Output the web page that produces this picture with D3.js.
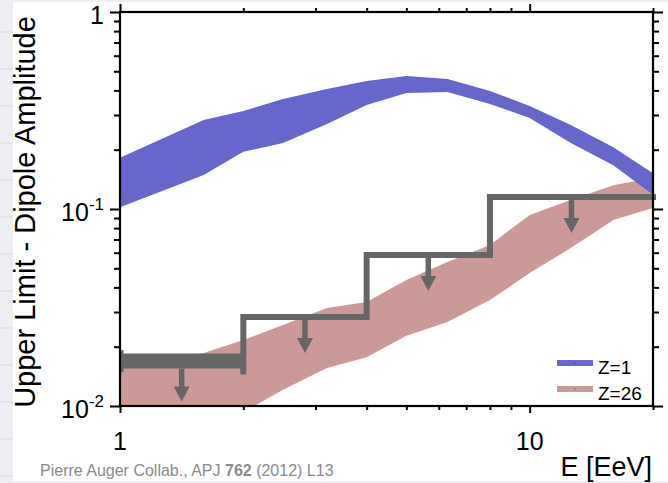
<!DOCTYPE html>
<html>
<head>
<meta charset="utf-8">
<script src="https://cdn.jsdelivr.net/npm/d3@7"></script>
<style>
  html, body { margin: 0; padding: 0; background: #eceef2; }
  svg { display: block; font-family: "Liberation Sans", Arial, Helvetica, sans-serif; }
</style>
</head>
<body>
<svg id="chart" width="668" height="483"></svg>
<script>
// Energies (EeV) at which the expected dipole-amplitude bands are sampled
const energy = [1, 1.6, 2, 2.5, 3.2, 4, 5, 6.3, 8, 10, 12.6, 16, 20];

// Z=1 band (upper / lower edge)
const protonHigh = [0.182, 0.283, 0.314, 0.362, 0.407, 0.447, 0.473, 0.457, 0.397, 0.333, 0.267, 0.206, 0.152];
const protonLow  = [0.102, 0.149, 0.195, 0.216, 0.270, 0.337, 0.388, 0.393, 0.341, 0.290, 0.216, 0.167, 0.118];

// Z=26 band (upper / lower edge)
const ironHigh = [0.0161, 0.0186, 0.0216, 0.0258, 0.0314, 0.0337, 0.0436, 0.0538, 0.0657, 0.0932, 0.111, 0.132, 0.144];
const ironLow  = [0.0060, 0.0076, 0.0093, 0.0121, 0.0156, 0.0177, 0.0227, 0.0267, 0.0345, 0.0473, 0.0634, 0.0879, 0.1012];

// Upper limits on the dipole amplitude in each energy bin
const binEdges = [1, 2, 4, 8, 20];
const upperLimits = [0.0169, 0.0283, 0.0584, 0.115];

// Axis ticks
const xMajorTicks = [1, 10];
const xTickText = ["1", "10"];
const xMinorTicks = [2, 3, 4, 5, 6, 7, 8, 9, 20];
const yMajorTicks = [1, 0.1, 0.01];
const yTickText = ["1", "10^-1", "10^-2"];
const yMinorTicks = [0.02, 0.03, 0.04, 0.05, 0.06, 0.07, 0.08, 0.09,
                     0.2, 0.3, 0.4, 0.5, 0.6, 0.7, 0.8, 0.9];

const legendLabels = ["Z=1", "Z=26"];
const bandColors = ["#6666cc", "#cc9999"];
const limitColor = "#666666";

const svg = d3.select("#chart");
const W = 668, H = 483;
const plot = { left: 120, right: 653, top: 12, bottom: 406 };

// Slide-like backdrop: pale strip with faint rules, white panel
svg.append("rect").attr("width", W).attr("height", H).attr("fill", "#eceef2");
svg.append("g").selectAll("line")
  .data(d3.range(32, H, 37))
  .join("line")
  .attr("x1", 0).attr("x2", 13)
  .attr("y1", d => d).attr("y2", d => d)
  .attr("stroke", "#d6d9e0").attr("stroke-width", 1);
svg.append("rect").attr("x", 13).attr("y", 2).attr("width", W - 13).attr("height", H - 4)
  .attr("fill", "#ffffff");

const x = d3.scaleLog().domain([1, 20]).range([plot.left, plot.right]);
const y = d3.scaleLog().domain([0.01, 1]).range([plot.bottom, plot.top]);

svg.append("defs").append("clipPath").attr("id", "plotClip")
  .append("rect")
  .attr("x", plot.left).attr("y", plot.top)
  .attr("width", plot.right - plot.left).attr("height", plot.bottom - plot.top);

const body = svg.append("g").attr("clip-path", "url(#plotClip)");

const band = (hi, lo) => d3.area()
  .x((d, i) => x(energy[i]))
  .y0((d, i) => y(lo[i]))
  .y1((d, i) => y(hi[i]));

body.append("path").datum(energy)
  .attr("d", band(ironHigh, ironLow))
  .attr("fill", bandColors[1]);
body.append("path").datum(energy)
  .attr("d", band(protonHigh, protonLow))
  .attr("fill", bandColors[0]);

// Upper-limit steps
const limits = svg.append("g").attr("fill", limitColor).attr("stroke", limitColor);
const thickHalf = 7.5, thinHalf = 3;

// First bin drawn as a heavy bar with an end cap
limits.append("line")
  .attr("x1", x(binEdges[0])).attr("x2", x(binEdges[1]))
  .attr("y1", y(upperLimits[0])).attr("y2", y(upperLimits[0]))
  .attr("stroke-width", thickHalf * 2);
limits.append("line")
  .attr("x1", x(binEdges[0]) + 1.5).attr("x2", x(binEdges[0]) + 1.5)
  .attr("y1", y(upperLimits[0]) - 11).attr("y2", y(upperLimits[0]) + 11)
  .attr("stroke-width", 4);

// Remaining bins as a stepped line
const steps = [[x(binEdges[1]), y(upperLimits[0]) + thickHalf + 3]];
for (let i = 1; i < upperLimits.length; i++) {
  steps.push([x(binEdges[i]), y(upperLimits[i])]);
  steps.push([x(binEdges[i + 1]), y(upperLimits[i])]);
}
limits.append("path")
  .attr("d", d3.line()(steps))
  .attr("fill", "none")
  .attr("stroke-width", thinHalf * 2)
  .attr("stroke-linejoin", "miter")
  .attr("stroke-linecap", "square");

// Downward arrows at the bin centres
upperLimits.forEach((v, i) => {
  const cx = x(Math.sqrt(binEdges[i] * binEdges[i + 1]));
  const half = i === 0 ? thickHalf : thinHalf;
  const y0 = y(v) + half;
  const tip = y0 + 33;
  limits.append("line")
    .attr("x1", cx).attr("x2", cx)
    .attr("y1", y0).attr("y2", tip - 12)
    .attr("stroke-width", 5.5);
  limits.append("path")
    .attr("d", `M${cx - 8},${tip - 15}L${cx + 8},${tip - 15}L${cx},${tip}Z`)
    .attr("stroke", "none");
});

// Axes: ticks point outward on all four sides
function drawAxis(axisFn, scale, ticks, size, transform) {
  const g = svg.append("g")
    .attr("transform", transform)
    .call(axisFn(scale).tickValues(ticks).tickSize(size).tickFormat(""));
  g.select(".domain").remove();
  g.selectAll(".tick line").attr("stroke", "#000").attr("stroke-width", 2);
  return g;
}
drawAxis(d3.axisLeft, y, yMajorTicks, 10, `translate(${plot.left},0)`);
drawAxis(d3.axisLeft, y, yMinorTicks, 6, `translate(${plot.left},0)`);
drawAxis(d3.axisRight, y, yMajorTicks, 10, `translate(${plot.right},0)`);
drawAxis(d3.axisRight, y, yMinorTicks, 6, `translate(${plot.right},0)`);
drawAxis(d3.axisBottom, x, xMajorTicks, 7, `translate(0,${plot.bottom})`);
drawAxis(d3.axisBottom, x, xMinorTicks, 4, `translate(0,${plot.bottom})`);
drawAxis(d3.axisTop, x, xMajorTicks, 8, `translate(0,${plot.top})`);
drawAxis(d3.axisTop, x, xMinorTicks, 4, `translate(0,${plot.top})`);

svg.append("rect")
  .attr("x", plot.left).attr("y", plot.top)
  .attr("width", plot.right - plot.left).attr("height", plot.bottom - plot.top)
  .attr("fill", "none").attr("stroke", "#000").attr("stroke-width", 2.2);

// Tick labels
const tickFont = 25;
yMajorTicks.forEach((v, i) => {
  const [base, exp] = yTickText[i].split("^");
  const t = svg.append("text")
    .attr("x", 104).attr("y", y(v) + 12)
    .attr("text-anchor", "end")
    .attr("font-size", tickFont).attr("fill", "#000");
  t.append("tspan").text(base);
  if (exp) t.append("tspan").attr("dy", -11).attr("font-size", 17).text(exp);
});
xMajorTicks.forEach((v, i) => {
  svg.append("text")
    .attr("x", x(v)).attr("y", 450)
    .attr("text-anchor", "middle")
    .attr("font-size", tickFont).attr("fill", "#000")
    .text(xTickText[i]);
});

// Axis titles
svg.append("text")
  .attr("transform", "translate(35,212) rotate(-90)")
  .attr("text-anchor", "middle")
  .attr("font-size", 29).attr("fill", "#000")
  .text("Upper Limit - Dipole Amplitude");
svg.append("text")
  .attr("x", 652).attr("y", 476)
  .attr("text-anchor", "end")
  .attr("font-size", 27).attr("fill", "#000")
  .text("E [EeV]");

// Legend
const legend = svg.append("g").attr("transform", "translate(557,363)");
legendLabels.forEach((lab, i) => {
  const gy = i * 26;
  legend.append("rect")
    .attr("x", 0).attr("y", gy - 3).attr("width", 36).attr("height", 6)
    .attr("fill", bandColors[i]);
  legend.append("rect")
    .attr("x", 17.5).attr("y", gy - 0.5).attr("width", 1).attr("height", 1)
    .attr("fill", "#333");
  legend.append("text")
    .attr("x", 41).attr("y", gy + 11)
    .attr("font-size", 19).attr("fill", "#000")
    .text(lab);
});

// Reference note
const cite = svg.append("text")
  .attr("x", 40).attr("y", 476)
  .attr("font-size", 16).attr("fill", "#8a8a8a");
cite.append("tspan").text("Pierre Auger Collab., APJ ");
cite.append("tspan").attr("font-weight", "bold").text("762");
cite.append("tspan").text(" (2012) L13");
</script>
</body>
</html>
